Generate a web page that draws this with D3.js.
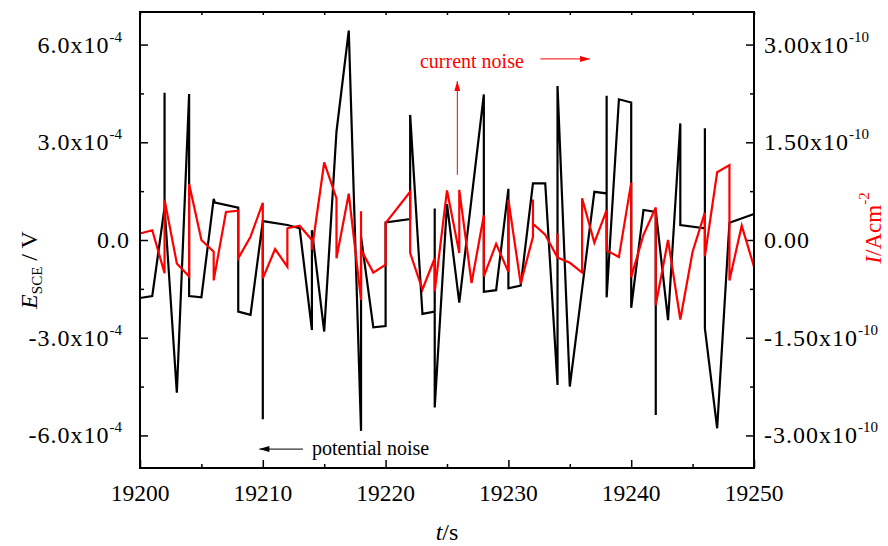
<!DOCTYPE html>
<html>
<head>
<meta charset="utf-8">
<script src="https://cdn.jsdelivr.net/npm/d3@7/dist/d3.min.js"></script>
<style>
  body { margin: 0; background: #fff; }
  svg { display: block; }
  text { font-family: "Liberation Serif", "Times New Roman", serif; }
</style>
</head>
<body>
<div id="chart"></div>
<script>
// potential noise, E in units of 1e-4 V (repeated times = vertical jumps)
const potentialT = [19200, 19201, 19202, 19202, 19202, 19203, 19204, 19204, 19205, 19206, 19206.1,
  19208, 19208, 19209, 19210, 19210, 19210, 19212, 19213, 19214, 19214, 19215, 19216, 19217,
  19218, 19218, 19219, 19220, 19220, 19222, 19222, 19223, 19224, 19224, 19224, 19225, 19226,
  19228, 19228, 19229, 19230, 19230, 19231, 19232, 19233, 19234, 19234, 19235, 19237, 19238,
  19238, 19238, 19239, 19240, 19240, 19241, 19242, 19242, 19242, 19243, 19244, 19244, 19246,
  19246, 19246, 19247, 19248, 19250]
const potentialE = [-1.78, -1.72, 1.0, 4.52, 1.0, -4.69, 4.48, -1.72, -1.76, 1.26, 1.15,
  0.99, -2.2, -2.3, 0.58, -5.5, 0.58, 0.46, 0.36, -2.76, 0.3, -2.81, 3.33, 6.43,
  -5.86, 0.1, -2.68, -2.64, 0.54, 0.64, 3.84, -2.27, -2.2, 0.97, -5.14, 1.1, -1.92,
  4.47, -1.59, -1.54, 1.57, -1.48, -1.40, 1.74, 1.74, -4.45, 4.73, -4.5, 1.48, 1.43,
  4.43, -1.76, 4.32, 4.22, -2.08, 0.92, 0.86, -5.37, 0.9, -2.46, 3.58, 0.46, 0.36,
  3.43, -2.71, -5.78, 0.53, 0.8]

// current noise, I in units of 1e-10 A/cm2
const currentT = [19200, 19201, 19202, 19202, 19203, 19204, 19204, 19205, 19206, 19206, 19207,
  19208, 19208, 19209, 19210, 19210, 19211, 19212, 19212, 19213, 19214, 19214, 19215, 19216,
  19216, 19217, 19218, 19218, 19218, 19219, 19220, 19220, 19222, 19222, 19223, 19224, 19224,
  19225, 19226, 19226, 19227, 19228, 19228, 19229, 19230, 19230, 19231, 19232, 19232, 19232,
  19233, 19234, 19234, 19234, 19235, 19236, 19236, 19237, 19238, 19238, 19239, 19240, 19240,
  19241, 19242, 19242, 19243, 19244, 19245, 19246, 19246, 19247, 19248, 19248, 19249, 19250]
const currentI = [0.10, 0.15, -0.51, 0.62, -0.36, -0.56, 0.86, 0.0, -0.18, -0.62, 0.43,
  0.45, -0.28, 0.05, 0.57, -0.59, -0.14, -0.41, 0.18, 0.22, 0.0, -0.15, 1.19, 0.64,
  -0.28, 0.71, -0.92, 0.44, -0.15, -0.5, -0.38, 0.26, 0.74, -0.2, -0.76, -0.28, -0.79,
  0.76, -0.2, 0.77, -0.66, 0.38, -0.56, -0.06, -0.49, 0.62, -0.67, 0.05, 0.62, 0.25,
  0.08, -0.27, 0.1, -0.27, -0.35, -0.5, 0.64, -0.04, 0.46, -0.16, -0.26, 0.88, -0.57,
  0.08, 0.5, -1.0, 0.0, -1.22, -0.18, 0.42, -0.25, 1.04, 1.15, -0.62, 0.22, -0.41]

const xMajor = [19200, 19210, 19220, 19230, 19240, 19250]
const xMinor = [19205, 19215, 19225, 19235, 19245]
const leftMajor = [-6, -3, 0, 3, 6]
const leftMinor = [-4.5, -1.5, 1.5, 4.5]
const rightMajor = [-3, -1.5, 0, 1.5, 3]
const rightMinor = [-2.25, -0.75, 0.75, 2.25]
const leftLabels = ["-6.0x10", "-3.0x10", "0.0", "3.0x10", "6.0x10"]
const rightLabels = ["-3.00x10", "-1.50x10", "0.00", "1.50x10", "3.00x10"]

const width = 888, height = 546
const margin = {top: 12, right: 134, bottom: 78, left: 140}

const svg = d3.select("#chart").append("svg")
  .attr("width", width)
  .attr("height", height)

const x = d3.scaleLinear().domain([19200, 19250]).range([margin.left, width - margin.right])
const yLeft = d3.scaleLinear().domain([-7, 7]).range([height - margin.bottom, margin.top])
const yRight = d3.scaleLinear().domain([-3.5, 3.5]).range([height - margin.bottom, margin.top])

const plotBottom = height - margin.bottom
const plotRight = width - margin.right

// arrow heads
const defs = svg.append("defs")
function marker(id, color) {
  defs.append("marker")
    .attr("id", id)
    .attr("viewBox", "0 0 10 6")
    .attr("refX", 10).attr("refY", 3)
    .attr("markerWidth", 11).attr("markerHeight", 6)
    .attr("markerUnits", "userSpaceOnUse")
    .attr("orient", "auto")
    .append("path").attr("d", "M0,0L10,3L0,6Z").attr("fill", color)
}
marker("head_red", "#ff0000")
marker("head_black", "#000")

// ticks (inward)
function tickAxis(axis, transform) {
  const g = svg.append("g").attr("transform", transform).call(axis)
  g.select(".domain").remove()
  g.selectAll(".tick line").attr("stroke", "#000").attr("stroke-width", 1.5)
  return g
}
tickAxis(d3.axisBottom(x).tickValues(xMajor).tickSize(-8).tickFormat(""), `translate(0,${plotBottom})`)
tickAxis(d3.axisBottom(x).tickValues(xMinor).tickSize(-4).tickFormat(""), `translate(0,${plotBottom})`)
tickAxis(d3.axisTop(x).tickValues(xMajor.concat(xMinor)).tickSize(-3).tickFormat(""), `translate(0,${margin.top})`)
tickAxis(d3.axisLeft(yLeft).tickValues(leftMajor).tickSize(-8).tickFormat(""), `translate(${margin.left},0)`)
tickAxis(d3.axisLeft(yLeft).tickValues(leftMinor).tickSize(-4).tickFormat(""), `translate(${margin.left},0)`)
tickAxis(d3.axisRight(yRight).tickValues(rightMajor).tickSize(-8).tickFormat(""), `translate(${plotRight},0)`)
tickAxis(d3.axisRight(yRight).tickValues(rightMinor).tickSize(-4).tickFormat(""), `translate(${plotRight},0)`)

// lines
const potential = potentialT.map((t, i) => [t, potentialE[i]])
const current = currentT.map((t, i) => [t, currentI[i]])

svg.append("path")
  .datum(potential)
  .attr("d", d3.line().x(d => x(d[0])).y(d => yLeft(d[1])))
  .attr("fill", "none")
  .attr("stroke", "#000")
  .attr("stroke-width", 2.2)

svg.append("path")
  .datum(current)
  .attr("d", d3.line().x(d => x(d[0])).y(d => yRight(d[1])))
  .attr("fill", "none")
  .attr("stroke", "#ff0000")
  .attr("stroke-width", 2.2)

// frame
svg.append("rect")
  .attr("x", margin.left).attr("y", margin.top)
  .attr("width", plotRight - margin.left)
  .attr("height", plotBottom - margin.top)
  .attr("fill", "none")
  .attr("stroke", "#000")
  .attr("stroke-width", 2)

// tick labels
svg.append("g").selectAll("text")
  .data(xMajor)
  .join("text")
  .attr("x", d => x(d))
  .attr("y", plotBottom + 33)
  .attr("text-anchor", "middle")
  .attr("font-size", 23.5)
  .text(d => d)

function powLabel(g, base, exp) {
  g.append("tspan").text(base)
  if (exp) g.append("tspan").attr("dy", -11).attr("font-size", 15).attr("letter-spacing", 0).text(exp)
}

svg.append("g").selectAll("text")
  .data(leftMajor)
  .join("text")
  .attr("x", d => d === 0 ? 130 : 122)
  .attr("y", d => yLeft(d) + 8)
  .attr("text-anchor", "end")
  .attr("font-size", 24)
  .attr("letter-spacing", 1)
  .each(function (d, i) { powLabel(d3.select(this), leftLabels[i], d === 0 ? null : "-4") })

svg.append("g").selectAll("text")
  .data(rightMajor)
  .join("text")
  .attr("x", plotRight + 10)
  .attr("y", d => yRight(d) + 8)
  .attr("font-size", 24)
  .attr("letter-spacing", 1)
  .each(function (d, i) { powLabel(d3.select(this), rightLabels[i], d === 0 ? null : "-10") })

// axis titles
const xt = svg.append("text")
  .attr("x", (margin.left + plotRight) / 2)
  .attr("y", 540)
  .attr("text-anchor", "middle")
  .attr("font-size", 24)
xt.append("tspan").attr("font-style", "italic").text("t")
xt.append("tspan").text("/s")

const yt = svg.append("text")
  .attr("transform", "translate(37,270) rotate(-90)")
  .attr("text-anchor", "middle")
  .attr("font-size", 24)
yt.append("tspan").attr("font-style", "italic").text("E")
yt.append("tspan").attr("font-size", 15).attr("dy", 5).text("SCE")
yt.append("tspan").attr("dy", -5).text(" / V")

const rt = svg.append("text")
  .attr("transform", "translate(881,228) rotate(-90)")
  .attr("text-anchor", "middle")
  .attr("font-size", 23)
  .attr("fill", "#ff0000")
rt.append("tspan").attr("font-style", "italic").text("I")
rt.append("tspan").text("/Acm")
rt.append("tspan").attr("dy", -12).attr("font-size", 15).text("-2")

// annotations
svg.append("text")
  .attr("x", x(19222.8)).attr("y", yLeft(5.28))
  .attr("font-size", 20)
  .attr("fill", "#ff0000")
  .text("current noise")

svg.append("line")
  .attr("x1", x(19232.6)).attr("y1", yLeft(5.56))
  .attr("x2", x(19236.65)).attr("y2", yLeft(5.56))
  .attr("stroke", "#ff0000").attr("stroke-width", 1)
  .attr("marker-end", "url(#head_red)")

svg.append("line")
  .attr("x1", x(19225.84)).attr("y1", yLeft(2.0))
  .attr("x2", x(19225.84)).attr("y2", yLeft(4.88))
  .attr("stroke", "#ff0000").attr("stroke-width", 1)
  .attr("marker-end", "url(#head_red)")

svg.append("text")
  .attr("x", x(19214.0)).attr("y", yLeft(-6.6))
  .attr("font-size", 20)
  .attr("fill", "#000")
  .text("potential noise")

svg.append("line")
  .attr("x1", x(19213.27)).attr("y1", yLeft(-6.42))
  .attr("x2", x(19209.72)).attr("y2", yLeft(-6.42))
  .attr("stroke", "#000").attr("stroke-width", 1)
  .attr("marker-end", "url(#head_black)")
</script>
</body>
</html>
